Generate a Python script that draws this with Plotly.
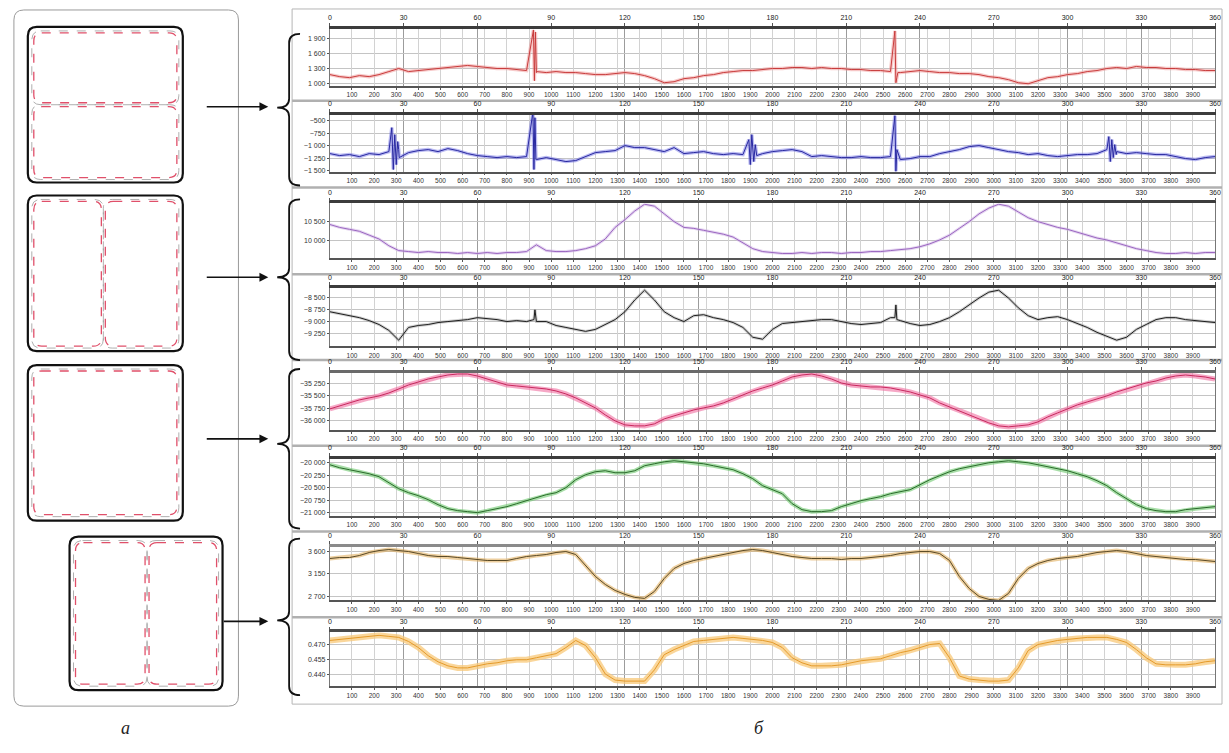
import plotly.graph_objects as go

W, H = 1229, 753

# ---------------- data ----------------
angle = list(range(0, 361, 4))          # sampling grid, degrees
deg_ticks = [0, 30, 60, 90, 120, 150, 180, 210, 240, 270, 300, 330, 360]
n_samples = 4000                         # samples per 360 degrees
sample_ticks = list(range(100, 4000, 100))

red_val = [1180, 1140, 1120, 1160, 1140, 1180, 1240, 1300, 1240, 1260,
           1280, 1300, 1320, 1340, 1360, 1340, 1320, 1300, 1300, 1280,
           1260, 1240, 1220, 1240, 1220, 1220, 1200, 1180, 1180, 1200,
           1220, 1200, 1160, 1100, 1020, 1040, 1100, 1120, 1160, 1180,
           1220, 1240, 1260, 1260, 1280, 1300, 1300, 1320, 1320, 1300,
           1320, 1300, 1300, 1280, 1280, 1260, 1260, 1240, 1220, 1240,
           1260, 1240, 1220, 1220, 1200, 1200, 1180, 1140, 1120, 1080,
           1020, 1000, 1060, 1120, 1140, 1180, 1200, 1240, 1260, 1300,
           1320, 1300, 1340, 1320, 1320, 1300, 1300, 1280, 1280, 1260,
           1260]
red_spike_angle = [82.8, 83.2, 83.6, 84.0, 229.8, 230.2, 230.6, 231.0]
red_spike_val = [2060, 1060, 2020, 1220, 2040, 1020, 1120, 1220]

blue_val = [-1160, -1200, -1180, -1220, -1160, -1180, -1120, -1080, -1140, -1100,
            -1080, -1120, -1060, -1100, -1160, -1200, -1220, -1240, -1220, -1240,
            -1220, -1280, -1240, -1280, -1320, -1300, -1220, -1140, -1120, -1100,
            -1000, -1040, -1040, -1080, -1120, -1040, -1160, -1140, -1120, -1160,
            -1180, -1160, -1180, -1140, -1160, -1120, -1100, -1080, -1120, -1220,
            -1200, -1220, -1240, -1240, -1220, -1240, -1240, -1220, -1280, -1260,
            -1220, -1220, -1160, -1120, -1080, -1020, -1000, -1040, -1080, -1120,
            -1140, -1180, -1160, -1200, -1220, -1200, -1180, -1180, -1160, -1080,
            -1120, -1160, -1140, -1160, -1180, -1180, -1220, -1260, -1280, -1240,
            -1220]
blue_spike_angle = [25.2, 25.8, 26.4, 27.0, 27.6, 28.2,
                    82.6, 83.0, 83.4, 83.8,
                    170.4, 171.0, 171.6, 172.4, 173.0, 173.6,
                    229.8, 230.2, 230.6,
                    316.8, 317.4, 318.0, 318.6, 319.2, 319.8]
blue_spike_val = [-640, -1480, -780, -1380, -920, -1240,
                  -320, -1480, -440, -1280,
                  -880, -1380, -780, -1320, -980, -1200,
                  -400, -1520, -1080,
                  -820, -1320, -880, -1240, -980, -1180]

violet_val = [10425, 10350, 10300, 10250, 10150, 10050, 9875, 9750, 9725, 9700,
              9725, 9700, 9700, 9675, 9700, 9675, 9700, 9675, 9700, 9700,
              9725, 9900, 9750, 9725, 9725, 9750, 9800, 9875, 10050, 10350,
              10550, 10775, 10950, 10900, 10700, 10500, 10350, 10325, 10275, 10225,
              10175, 10100, 9950, 9800, 9725, 9700, 9675, 9675, 9700, 9675,
              9700, 9700, 9675, 9700, 9700, 9725, 9725, 9750, 9775, 9800,
              9850, 9925, 10025, 10150, 10325, 10500, 10700, 10850, 10950, 10900,
              10750, 10600, 10500, 10425, 10350, 10300, 10225, 10150, 10075, 10025,
              9950, 9875, 9800, 9750, 9700, 9675, 9675, 9700, 9675, 9700,
              9700]

black_val = [-8800, -8840, -8880, -8920, -8980, -9060, -9180, -9380, -9120, -9080,
             -9060, -9020, -9000, -8980, -8960, -8920, -8940, -8960, -9000, -8980,
             -9000, -9000, -9000, -9080, -9120, -9160, -9200, -9160, -9060, -8960,
             -8800, -8560, -8360, -8560, -8800, -8920, -9000, -8880, -8860, -8920,
             -8960, -9020, -9120, -9320, -9360, -9160, -9040, -9020, -9000, -8980,
             -8960, -8960, -9000, -9040, -9060, -9040, -9020, -8920, -8980, -9040,
             -9080, -9060, -9000, -8920, -8800, -8660, -8520, -8400, -8360, -8520,
             -8720, -8880, -8960, -8920, -8900, -8960, -9040, -9120, -9220, -9300,
             -9380, -9320, -9160, -9060, -8960, -8920, -8920, -8960, -8980, -9000,
             -9020]
black_spike_angle = [83.0, 83.4, 83.8, 229.8, 230.2, 230.6]
black_spike_val = [-8960, -8760, -8980, -8920, -8660, -8960]

crimson_val = [-35760, -35700, -35640, -35580, -35540, -35500, -35440, -35360, -35280, -35220,
               -35160, -35120, -35080, -35060, -35060, -35100, -35160, -35220, -35280, -35300,
               -35320, -35340, -35360, -35400, -35460, -35540, -35640, -35740, -35880, -36000,
               -36080, -36100, -36100, -36060, -35960, -35900, -35840, -35780, -35740, -35700,
               -35640, -35560, -35480, -35400, -35340, -35280, -35200, -35120, -35080, -35060,
               -35100, -35160, -35240, -35280, -35300, -35320, -35320, -35340, -35380, -35420,
               -35480, -35540, -35640, -35720, -35800, -35880, -35960, -36040, -36100, -36120,
               -36100, -36080, -36020, -35920, -35840, -35760, -35680, -35620, -35560, -35500,
               -35420, -35360, -35300, -35240, -35200, -35140, -35100, -35080, -35100, -35120,
               -35160]

green_val = [-20040, -20100, -20140, -20180, -20220, -20280, -20400, -20520, -20600, -20660,
             -20740, -20840, -20920, -20960, -20980, -21000, -20960, -20920, -20880, -20820,
             -20760, -20700, -20640, -20600, -20500, -20340, -20240, -20180, -20160, -20200,
             -20200, -20160, -20060, -20020, -19980, -19960, -19980, -20000, -20020, -20060,
             -20100, -20140, -20220, -20320, -20460, -20540, -20620, -20820, -20940, -20980,
             -20980, -20960, -20880, -20820, -20760, -20720, -20680, -20620, -20580, -20540,
             -20440, -20340, -20260, -20180, -20120, -20080, -20040, -20000, -19980, -19960,
             -19980, -20000, -20040, -20080, -20120, -20160, -20220, -20280, -20360, -20460,
             -20600, -20720, -20840, -20920, -20960, -20980, -20980, -20940, -20920, -20900,
             -20880]

olive_val = [3460, 3480, 3480, 3520, 3580, 3620, 3640, 3620, 3600, 3560,
             3520, 3500, 3500, 3480, 3460, 3440, 3420, 3420, 3420, 3460,
             3500, 3520, 3540, 3580, 3600, 3540, 3320, 3100, 2940, 2820,
             2740, 2680, 2660, 2800, 3060, 3260, 3360, 3420, 3460, 3500,
             3540, 3580, 3620, 3640, 3620, 3580, 3540, 3500, 3480, 3460,
             3460, 3460, 3440, 3460, 3460, 3480, 3500, 3520, 3560, 3580,
             3600, 3600, 3560, 3420, 3100, 2860, 2700, 2640, 2620, 2760,
             3060, 3260, 3360, 3420, 3460, 3480, 3500, 3540, 3580, 3600,
             3620, 3600, 3560, 3520, 3500, 3480, 3460, 3440, 3440, 3420,
             3400]

orange_val = [0.474, 0.475, 0.476, 0.477, 0.478, 0.479, 0.478, 0.477, 0.473, 0.467,
              0.459, 0.453, 0.449, 0.447, 0.447, 0.449, 0.451, 0.452, 0.454, 0.455,
              0.455, 0.457, 0.459, 0.461, 0.467, 0.474, 0.469, 0.457, 0.441, 0.435,
              0.434, 0.434, 0.434, 0.445, 0.460, 0.465, 0.469, 0.473, 0.474, 0.475,
              0.476, 0.477, 0.476, 0.475, 0.474, 0.472, 0.467, 0.457, 0.452, 0.449,
              0.449, 0.449, 0.450, 0.452, 0.454, 0.455, 0.456, 0.459, 0.462, 0.464,
              0.467, 0.470, 0.471, 0.457, 0.439, 0.436, 0.435, 0.434, 0.434, 0.435,
              0.447, 0.464, 0.470, 0.472, 0.474, 0.475, 0.476, 0.477, 0.477, 0.477,
              0.475, 0.472, 0.465, 0.457, 0.451, 0.450, 0.450, 0.450, 0.451, 0.453,
              0.454]

# y-axis tick values per panel
red_ticks = [1000, 1300, 1600, 1900]
blue_ticks = [-1500, -1250, -1000, -750, -500]
violet_ticks = [10000, 10500]
black_ticks = [-9250, -9000, -8750, -8500]
crimson_ticks = [-36000, -35750, -35500, -35250]
green_ticks = [-21000, -20750, -20500, -20250, -20000]
olive_ticks = [2700, 3150, 3600]
orange_ticks = [0.440, 0.455, 0.470]

# ---------------- panel options ----------------
panels = [
    dict(v=red_val, sa=red_spike_angle, sv=red_spike_val, ticks=red_ticks, rng=[960, 2080],
         box=(29, 86), line="#c83c3c", halo="rgba(240,150,150,0.5)", hw=3.5, fmt="", top="#3c3c3c"),
    dict(v=blue_val, sa=blue_spike_angle, sv=blue_spike_val, ticks=blue_ticks, rng=[-1520, -380],
         box=(115, 172), line="#2828a0", halo="rgba(120,120,230,0.5)", hw=3.5, fmt="", top="#3c3c3c"),
    dict(v=violet_val, sa=[], sv=[], ticks=violet_ticks, rng=[9550, 10970],
         box=(204, 259), line="#9a66c0", halo="rgba(205,175,228,0.5)", hw=3, fmt="", top="#3c3c3c"),
    dict(v=black_val, sa=black_spike_angle, sv=black_spike_val, ticks=black_ticks, rng=[-9500, -8320],
         box=(289, 347), line="#1e1e1e", halo="rgba(120,120,120,0.35)", hw=3, fmt="", top="#3c3c3c"),
    dict(v=crimson_val, sa=[], sv=[], ticks=crimson_ticks, rng=[-36180, -35040],
         box=(374, 431), line="#c8285e", halo="rgba(240,110,160,0.6)", hw=5, fmt="", top="#6a6a6a"),
    dict(v=green_val, sa=[], sv=[], ticks=green_ticks, rng=[-21060, -19920],
         box=(460, 517), line="#2a6a2a", halo="rgba(110,200,110,0.6)", hw=4, fmt="", top="#3c3c3c"),
    dict(v=olive_val, sa=[], sv=[], ticks=olive_ticks, rng=[2620, 3700],
         box=(548, 602), line="#5a4a26", halo="rgba(225,175,95,0.6)", hw=4, fmt="", top="#8a8a8a"),
    dict(v=orange_val, sa=[], sv=[], ticks=orange_ticks, rng=[0.429, 0.482],
         box=(634, 688), line="#e49a2a", halo="rgba(248,200,120,0.75)", hw=6, fmt=".3f", top="#4a4a4a"),
]

X0, X1 = 330, 1221
FONT = "Liberation Sans"

fig = go.Figure()
layout = dict(
    width=W, height=H, margin=dict(l=0, r=0, t=0, b=0),
    paper_bgcolor="white", plot_bgcolor="white", showlegend=False,
    separators=". ", font=dict(family=FONT, size=7, color="#333"),
)


def ax_name(n):
    return "xaxis" if n == 1 else f"xaxis{n}"


for i, p in enumerate(panels, start=1):
    pts = sorted(zip(angle + p["sa"], p["v"] + p["sv"]))
    a = [q[0] for q in pts]
    v = [q[1] for q in pts]
    smp = [t * n_samples / 360 for t in a]
    xb, xo = 2 * i - 1, 2 * i
    yid = "y" if i == 1 else f"y{i}"
    fig.add_trace(go.Scatter(x=a, y=v, mode="lines", xaxis="x" if xb == 1 else f"x{xb}", yaxis=yid,
                             line=dict(color=p["halo"], width=p["hw"]), hoverinfo="skip"))
    fig.add_trace(go.Scatter(x=smp, y=v, mode="lines", xaxis=f"x{xo}", yaxis=yid,
                             line=dict(color=p["line"], width=1)))
    top, bot = p["box"]
    dom_y = [1 - bot / H, 1 - top / H]
    layout[ax_name(xb)] = dict(
        domain=[X0 / W, X1 / W], range=[0, 360], side="top", anchor=yid,
        tickmode="array", tickvals=deg_ticks, ticks="outside", ticklen=3, tickcolor="#555",
        tickfont=dict(size=7, color="#222"), showgrid=True, gridcolor="#9c9c9c", gridwidth=1.3,
        showline=True, linewidth=2.6, linecolor=p["top"], zeroline=False, fixedrange=True)
    layout[ax_name(xo)] = dict(
        overlaying="x" if xb == 1 else f"x{xb}", side="bottom", anchor=yid,
        range=[0, n_samples], tickmode="array", tickvals=sample_ticks, ticks="outside", ticklen=2,
        tickcolor="#555", tickfont=dict(size=6.5, color="#333"), showgrid=True, gridcolor="#d2d2d2",
        gridwidth=1, showline=True, linewidth=1.6, linecolor="#555", zeroline=False, fixedrange=True)
    layout["yaxis" if i == 1 else f"yaxis{i}"] = dict(
        domain=dom_y, range=p["rng"], anchor="x" if xb == 1 else f"x{xb}",
        tickmode="array", tickvals=p["ticks"], tickformat=p["fmt"], separatethousands=True,
        exponentformat="none", ticks="outside", ticklen=2, tickcolor="#555",
        tickfont=dict(size=7, color="#333"),
        showgrid=True, gridcolor="#c4c4c4", showline=True, mirror=True, linecolor="#777",
        linewidth=1, zeroline=False, fixedrange=True)


# ---------------- decorations (schematic, braces, arrows) ----------------
def P(x, y):
    return f"{x / W:.5f},{1 - y / H:.5f}"


def rrect(x0, y0, x1, y1, r):
    return (f"M {P(x0 + r, y0)} L {P(x1 - r, y0)} Q {P(x1, y0)} {P(x1, y0 + r)} "
            f"L {P(x1, y1 - r)} Q {P(x1, y1)} {P(x1 - r, y1)} L {P(x0 + r, y1)} "
            f"Q {P(x0, y1)} {P(x0, y1 - r)} L {P(x0, y0 + r)} Q {P(x0, y0)} {P(x0 + r, y0)} Z")


def brace(xr, xm, xl, yt, yb, ym, r=9):
    return (f"M {P(xr, yt)} Q {P(xm, yt)} {P(xm, yt + r)} L {P(xm, ym - r)} "
            f"Q {P(xm, ym)} {P(xl, ym)} Q {P(xm, ym)} {P(xm, ym + r)} "
            f"L {P(xm, yb - r)} Q {P(xm, yb)} {P(xr, yb)}")


shapes = []


def add_path(path, color, width, dash="solid"):
    shapes.append(dict(type="path", path=path, xref="paper", yref="paper", layer="above",
                       line=dict(color=color, width=width, dash=dash)))


# right frame + separators
shapes.append(dict(type="rect", xref="paper", yref="paper", x0=292 / W, x1=1228 / W,
                   y0=1 - 706 / H, y1=1 - 9 / H, line=dict(color="#b5b5b5", width=1), layer="below"))
for ys in [101, 188, 275, 361, 447, 533, 619]:
    shapes.append(dict(type="line", xref="paper", yref="paper", x0=292 / W, x1=1228 / W,
                       y0=1 - ys / H, y1=1 - ys / H, line=dict(color="#b0b0b0", width=2.5), layer="below"))

# left schematic
add_path(rrect(12, 10, 238, 708, 10), "#9a9a9a", 1)
boxes = [(26, 27, 182, 183), (26, 196, 182, 352), (26, 366, 182, 522), (68, 538, 222, 692)]
for b in boxes:
    add_path(rrect(*b, 9), "#111111", 2.2)
dashed = [(32, 33, 176, 103), (32, 107, 176, 178),
          (32, 202, 100, 347), (104, 202, 176, 347),
          (32, 372, 176, 516),
          (74, 544, 144, 686), (148, 544, 216, 686)]
for d in dashed:
    add_path(rrect(d[0] - 2, d[1] - 2, d[2] + 2, d[3] + 2, 9), "#9a9a9a", 0.8, "dash")
    add_path(rrect(*d, 8), "#e0506a", 1.3, "dash")

# braces
for yt, yb, ym in [(34, 186, 108), (200, 361, 278), (370, 530, 445), (540, 697, 622)]:
    add_path(brace(300, 289, 277, yt, yb, ym), "#111111", 1.8)

annotations = []
for y, xt in [(107, 205), (278, 205), (440, 205), (623, 222)]:
    annotations.append(dict(x=268 / W, y=1 - y / H, xref="paper", yref="paper", text="",
                            showarrow=True, ax=-(268 - xt), ay=0, arrowhead=2, arrowsize=1.1,
                            arrowwidth=1.6, arrowcolor="#111111", standoff=0))
annotations.append(dict(x=118 / W, y=1 - 742 / H, xref="paper", yref="paper", text="<i>а</i>",
                        showarrow=False, font=dict(family="Liberation Serif", size=18, color="#222")))
annotations.append(dict(x=762 / W, y=1 - 742 / H, xref="paper", yref="paper", text="<i>б</i>",
                        showarrow=False, font=dict(family="Liberation Serif", size=18, color="#222")))

layout["shapes"] = shapes
layout["annotations"] = annotations
fig.update_layout(**layout)
fig.write_html("out.html")
